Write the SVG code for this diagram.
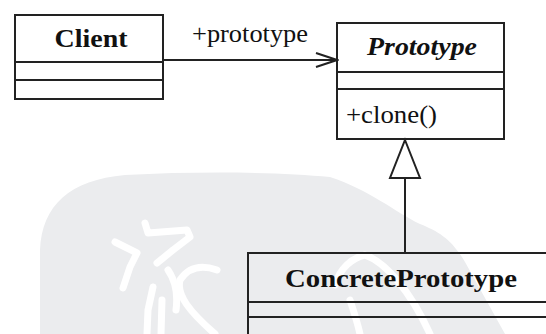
<svg xmlns="http://www.w3.org/2000/svg" width="546" height="334" viewBox="0 0 546 334">
  <style>
    .box { fill: none; stroke: #222222; stroke-width: 2; }
    .div { stroke: #222222; stroke-width: 2; fill: none; }
    text { fill: #111111; }
    .conn { stroke: #222222; stroke-width: 2; fill: none; }
    .wm { fill: #ebecee; }
    .wms { fill: none; stroke: #ffffff; stroke-width: 7; stroke-linecap: round; stroke-linejoin: round; }
  </style>
  <defs>
    <marker id="open" markerWidth="24" markerHeight="16" refX="22" refY="8" orient="auto" markerUnits="userSpaceOnUse">
      <path d="M1,1 L22,8 L1,15" fill="none" stroke="#222222" stroke-width="2"/>
    </marker>
  </defs>
  <rect width="546" height="334" fill="#ffffff"/>
  <g id="watermark">
    <path class="wm" d="M40,334 L40,250 C42,205 70,180 125,175 C200,171 280,172 330,177 C370,190 395,212 420,224 C440,232 452,240 465,262 L505,334 Z"/>
    <path class="wms" d="M145,223 L148,233 L187,230 L190,237 L173,250 L157,263"/>
    <path class="wms" d="M115,242 L137,253 L130,267 L123,288"/>
    <path class="wms" d="M217,270 C200,264 188,268 180,280 C176,295 190,312 215,334"/>
    <path class="wms" d="M153,287 L148,310 L147,334 M162,300 L161,334 M168,270 C175,280 178,295 176,310"/>
    <path class="wms" d="M335,285 C340,268 352,258 365,255 C385,262 410,290 430,334 M350,300 C355,315 358,325 360,334"/>
  </g>
  <g id="connectors" font-family="Liberation Serif, serif" font-size="25">
    <line class="conn" x1="163" y1="60" x2="337" y2="60" marker-end="url(#open)"/>
    <text x="250" y="42" text-anchor="middle" textLength="116" lengthAdjust="spacingAndGlyphs">+prototype</text>
    <line class="conn" x1="405" y1="253" x2="405" y2="178"/>
    <polygon points="405,140 420,178 390,178" fill="#ffffff" stroke="#222222" stroke-width="2"/>
  </g>
  <g id="client" font-family="Liberation Serif, serif" font-size="25" font-weight="bold">
    <rect class="box" x="15" y="15" width="148" height="84"/>
    <line class="div" x1="15" y1="62" x2="163" y2="62"/>
    <line class="div" x1="15" y1="80" x2="163" y2="80"/>
    <text x="91" y="47" text-anchor="middle" textLength="73" lengthAdjust="spacingAndGlyphs">Client</text>
  </g>
  <g id="prototype" font-family="Liberation Serif, serif" font-size="25">
    <rect class="box" x="337" y="23" width="167" height="116"/>
    <line class="div" x1="337" y1="72" x2="504" y2="72"/>
    <line class="div" x1="337" y1="89" x2="504" y2="89"/>
    <text x="422" y="55" text-anchor="middle" font-weight="bold" font-style="italic" textLength="110" lengthAdjust="spacingAndGlyphs">Prototype</text>
    <text x="346" y="123" textLength="91" lengthAdjust="spacingAndGlyphs">+clone()</text>
  </g>
  <g id="concrete" font-family="Liberation Serif, serif" font-size="25" font-weight="bold">
    <rect class="box" x="248" y="253" width="320" height="100"/>
    <line class="div" x1="248" y1="302" x2="568" y2="302"/>
    <line class="div" x1="248" y1="317" x2="568" y2="317"/>
    <text x="401" y="287" text-anchor="middle" textLength="232" lengthAdjust="spacingAndGlyphs">ConcretePrototype</text>
  </g>
</svg>
